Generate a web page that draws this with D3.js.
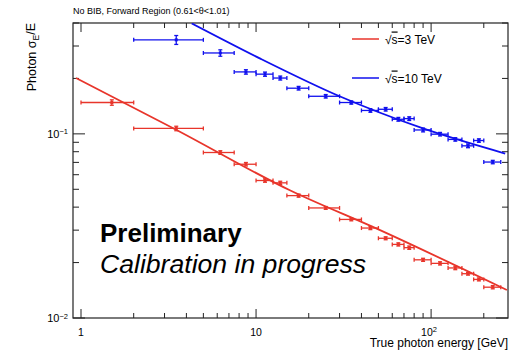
<!DOCTYPE html>
<html>
<head>
<meta charset="utf-8">
<script src="https://cdn.jsdelivr.net/npm/d3@7"></script>
<style>
  body { margin: 0; background: #fff; }
  text { font-family: "Liberation Sans", Arial, sans-serif; fill: #000; }
</style>
</head>
<body>
<div id="chart"></div>
<script>
// bins in true photon energy [GeV]
const binLow  = [1, 2, 5, 7.5, 10, 12.5, 15, 20, 30, 40, 50, 60, 70, 80, 100, 125, 150, 175, 200];
const binHigh = [2, 5, 7.5, 10, 12.5, 15, 20, 30, 40, 50, 60, 70, 80, 100, 125, 150, 175, 200, 250];
const binMid  = [1.5, 3.5, 6.25, 8.75, 11.25, 13.75, 17.5, 25, 35, 45, 55, 65, 75, 90, 112.5, 137.5, 162.5, 187.5, 225];

// sqrt(s)=3 TeV, all bins
const res3 = [0.148, 0.107, 0.0792, 0.0684, 0.0558, 0.0542, 0.0462, 0.0396, 0.0343, 0.0308,
              0.0271, 0.0251, 0.0241, 0.0207, 0.0198, 0.0187, 0.0174, 0.0162, 0.0147];
const err3 = [0.005, 0.003, 0.0018, 0.0015, 0.0012, 0.0011, 0.0009, 0.0007, 0.0006, 0.0006,
              0.0005, 0.0005, 0.0005, 0.0004, 0.0004, 0.0004, 0.0003, 0.0003, 0.0003];

// sqrt(s)=10 TeV, starts at the 2nd bin
const res10 = [null, 0.324, 0.275, 0.217, 0.211, 0.201, 0.177, 0.160, 0.148, 0.134,
               0.136, 0.120, 0.121, 0.105, 0.0996, 0.0933, 0.0861, 0.0920, 0.0703];
const err10 = [null, 0.018, 0.011, 0.006, 0.0055, 0.005, 0.004, 0.0035, 0.003, 0.003,
               0.003, 0.0028, 0.0028, 0.0025, 0.0022, 0.002, 0.002, 0.002, 0.0015];

// fit curves as [E, sigma/E]
const fit3  = [[0.936, 0.201], [3.45, 0.106], [15.6, 0.0494], [51.1, 0.0300], [271, 0.0142]];
const fit10 = [[4.29, 0.398], [10.5, 0.257], [30, 0.160], [90, 0.107], [265, 0.0782]];

const xTickLabels = ["1", "10", "10|2"];
const yTickLabels = ["10|-2", "10|-1"];

const width = 519, height = 351;
const margin = { top: 23, right: 11, bottom: 33, left: 73 };
const red = "#e8352b", blue = "#1010ee";

const svg = d3.select("#chart").append("svg")
  .attr("width", width)
  .attr("height", height);

const x = d3.scaleLog()
  .domain([0.9, 275])
  .range([margin.left, width - margin.right]);

const y = d3.scaleLog()
  .domain([0.01, 0.4])
  .range([height - margin.bottom, margin.top]);

svg.append("clipPath").attr("id", "plot")
  .append("rect")
  .attr("x", margin.left).attr("y", margin.top)
  .attr("width", x.range()[1] - x.range()[0])
  .attr("height", y.range()[0] - y.range()[1]);

// ticks inside the frame, ROOT style
const xMajor = [1, 10, 100];
const xMinor = [];
[1, 10, 100].forEach(d => { for (let k = 2; k <= 9; k++) if (d * k <= 275) xMinor.push(d * k); });
const yMajor = [0.01, 0.1];
const yMinor = [];
[0.01, 0.1].forEach(d => { for (let k = 2; k <= 9; k++) if (d * k <= 0.4) yMinor.push(d * k); });

function tick(g, x1, y1, x2, y2) {
  g.append("line").attr("x1", x1).attr("y1", y1).attr("x2", x2).attr("y2", y2)
    .attr("stroke", "#222").attr("stroke-width", 1);
}
const frame = svg.append("g");
const y0 = y.range()[0], y1 = y.range()[1], x0 = x.range()[0], x1 = x.range()[1];
xMajor.forEach(d => { tick(frame, x(d), y0, x(d), y0 - 9); tick(frame, x(d), y1, x(d), y1 + 9); });
xMinor.forEach(d => { tick(frame, x(d), y0, x(d), y0 - 5); tick(frame, x(d), y1, x(d), y1 + 5); });
yMajor.forEach(d => { tick(frame, x0, y(d), x0 + 12, y(d)); tick(frame, x1, y(d), x1 - 12, y(d)); });
yMinor.forEach(d => { tick(frame, x0, y(d), x0 + 6, y(d)); tick(frame, x1, y(d), x1 - 6, y(d)); });

frame.append("rect")
  .attr("x", x0).attr("y", y1)
  .attr("width", x1 - x0).attr("height", y0 - y1)
  .attr("fill", "none").attr("stroke", "#222").attr("stroke-width", 1.2);

// tick labels with superscripts
function supLabel(sel, s) {
  const [base, sup] = s.split("|");
  sel.append("tspan").text(base);
  if (sup) sel.append("tspan").attr("dy", "-0.45em").attr("font-size", "7.5px").text(sup.replace("-", "\u2212"));
}
xMajor.forEach((d, i) => {
  const t = svg.append("text")
    .attr("x", x(d) + (i === 2 ? -10 : 0))
    .attr("y", 335.5)
    .attr("font-size", "10.5px")
    .attr("text-anchor", i === 2 ? "start" : "middle");
  supLabel(t, xTickLabels[i]);
});
yMajor.forEach((d, i) => {
  const t = svg.append("text")
    .attr("x", 68)
    .attr("y", y(d) + 4)
    .attr("font-size", "11px")
    .attr("text-anchor", "end");
  supLabel(t, yTickLabels[i]);
});

// axis titles
svg.append("text")
  .attr("x", x1).attr("y", 347)
  .attr("text-anchor", "end")
  .attr("font-size", "12px")
  .text("True photon energy [GeV]");

const yl = svg.append("text")
  .attr("transform", "translate(36,23) rotate(-90)")
  .attr("text-anchor", "end")
  .attr("font-size", "12.5px");
yl.append("tspan").text("Photon \u03c3");
yl.append("tspan").attr("dy", "0.3em").attr("font-size", "8.5px").text("E");
yl.append("tspan").attr("dy", "-0.3em").text("/E");

svg.append("text")
  .attr("x", x0).attr("y", 14)
  .attr("font-size", "9px")
  .text("No BIB, Forward Region (0.61<\u03b8<1.01)");

// fit curves
const line = d3.line()
  .x(d => x(d[0]))
  .y(d => y(d[1]))
  .curve(d3.curveMonotoneX);

const plot = svg.append("g").attr("clip-path", "url(#plot)");

[[fit3, red], [fit10, blue]].forEach(([f, c]) => {
  plot.append("path")
    .datum(f)
    .attr("d", line)
    .attr("fill", "none")
    .attr("stroke", c)
    .attr("stroke-width", 1.8);
});

// data points with error bars
function drawSeries(vals, errs, color) {
  const pts = vals.map((v, i) => ({ v, e: errs[i], lo: binLow[i], hi: binHigh[i], m: binMid[i] }))
    .filter(d => d.v !== null);
  const g = plot.append("g").attr("stroke", color).attr("stroke-width", 1.3).attr("fill", color);
  g.selectAll("line.xe").data(pts).join("line").attr("class", "xe")
    .attr("x1", d => x(d.lo)).attr("x2", d => x(d.hi))
    .attr("y1", d => y(d.v)).attr("y2", d => y(d.v));
  g.selectAll("line.capl").data(pts).join("line").attr("class", "capl")
    .attr("x1", d => x(d.lo)).attr("x2", d => x(d.lo))
    .attr("y1", d => y(d.v) - 2).attr("y2", d => y(d.v) + 2);
  g.selectAll("line.caph").data(pts).join("line").attr("class", "caph")
    .attr("x1", d => x(d.hi)).attr("x2", d => x(d.hi))
    .attr("y1", d => y(d.v) - 2).attr("y2", d => y(d.v) + 2);
  g.selectAll("line.ye").data(pts).join("line").attr("class", "ye")
    .attr("x1", d => x(d.m)).attr("x2", d => x(d.m))
    .attr("y1", d => y(d.v - d.e)).attr("y2", d => y(d.v + d.e));
  g.selectAll("line.ycapt").data(pts).join("line").attr("class", "ycapt")
    .attr("x1", d => x(d.m) - 2).attr("x2", d => x(d.m) + 2)
    .attr("y1", d => y(d.v + d.e)).attr("y2", d => y(d.v + d.e));
  g.selectAll("line.ycapb").data(pts).join("line").attr("class", "ycapb")
    .attr("x1", d => x(d.m) - 2).attr("x2", d => x(d.m) + 2)
    .attr("y1", d => y(d.v - d.e)).attr("y2", d => y(d.v - d.e));
  g.selectAll("rect").data(pts).join("rect")
    .attr("x", d => x(d.m) - 1.5).attr("y", d => y(d.v) - 1.5)
    .attr("width", 3).attr("height", 3).attr("stroke", "none");
}
drawSeries(res3, err3, red);
drawSeries(res10, err10, blue);

// legend
const legend = [["3", red, 39], ["10", blue, 78]];
legend.forEach(([s, c, ly]) => {
  svg.append("line")
    .attr("x1", 352).attr("x2", 379).attr("y1", ly).attr("y2", ly)
    .attr("stroke", c).attr("stroke-width", 1.5);
  const t = svg.append("text").attr("x", 385).attr("y", ly + 4.5).attr("font-size", "12px");
  t.append("tspan").text("\u221a");
  t.append("tspan").attr("text-decoration", "overline").text("s");
  t.append("tspan").text("=" + s + " TeV");
});

// labels
svg.append("text")
  .attr("x", 100).attr("y", 242)
  .attr("font-size", "26px").attr("font-weight", "bold")
  .text("Preliminary");
svg.append("text")
  .attr("x", 100).attr("y", 273)
  .attr("font-size", "26.6px").attr("font-style", "italic")
  .text("Calibration in progress");
</script>
</body>
</html>
